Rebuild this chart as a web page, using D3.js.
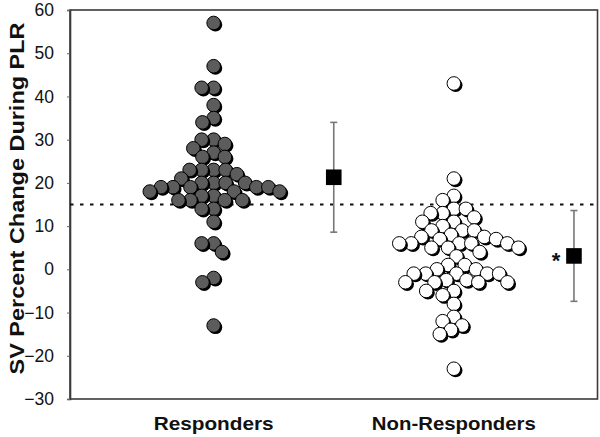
<!DOCTYPE html>
<html>
<head>
<meta charset="utf-8">
<script src="https://cdn.jsdelivr.net/npm/d3@7"></script>
<style>
  html, body { margin: 0; padding: 0; background: #fff; }
  svg { display: block; }
  text { font-family: "Liberation Sans", Arial, sans-serif; }
</style>
</head>
<body>
<svg id="chart" width="600" height="437"></svg>
<script>
// ---------------- data ----------------
const categories = ["Responders", "Non-Responders"];
const respondersValues = [57, 47, 42, 42, 38, 35, 34, 30, 30, 29, 28, 27, 26, 26,
  23, 23, 22, 23, 23, 20, 19, 20, 19, 20, 20, 21, 19, 19, 19,
  18, 18, 17, 17, 18, 16, 16, 16, 16, 14, 14, 11, 6, 6, 4, -2, -3, -13];
const nonRespondersValues = [43, 21, 17, 16, 14, 14, 13, 13, 12, 11, 11, 10,
  9, 9, 9, 8, 7.5, 7.5, 7, 7, 6, 6, 6, 6, 6, 5, 5, 5, 4, 3,
  1, 1, 0, 0, -1, -1, -1, -1, -1, -3, -3, -3, -3, -2.5, -2.5,
  -5, -6, -5, -8, -12, -11, -13, -15, -14, -23];
const groupMeans = [21.3, 3.1];
const groupSD = [12.7, 10.5];
const significance = ["", "*"];
const thresholdValue = 15;
const yTicks = [-30, -20, -10, 0, 10, 20, 30, 40, 50, 60];
const yTitle = "SV Percent Change During PLR";

// ---------------- layout ----------------
const svg = d3.select("#chart");
const mLeft = 70, mRight = 597.5, mTop = 10, mBottom = 399;

const y = d3.scaleLinear().domain([-30, 60]).range([mBottom, mTop]);
const x = d3.scalePoint().domain(categories).range([mLeft, mRight]).padding(0.598);
const step = x.step();

// frame
svg.append("rect")
  .attr("x", mLeft).attr("y", mTop)
  .attr("width", mRight - mLeft).attr("height", mBottom - mTop)
  .attr("fill", "none").attr("stroke", "#3a3a3a").attr("stroke-width", 1.6);

// y axis
const yAxis = d3.axisLeft(y).tickValues(yTicks).tickSize(3).tickPadding(13);
const gy = svg.append("g").attr("transform", `translate(${mLeft},0)`).call(yAxis);
gy.select(".domain").attr("stroke", "#3a3a3a").attr("stroke-width", 1.6);
gy.selectAll(".tick line").attr("stroke", "#666");
gy.selectAll(".tick text")
  .attr("font-size", 17.5).attr("fill", "#111")
  .style("font-family", "'Liberation Sans', Arial, sans-serif");

// y title
svg.append("text")
  .attr("transform", `translate(24,${(mTop + mBottom) / 2 - 6}) rotate(-90)`)
  .attr("text-anchor", "middle")
  .attr("font-size", 21).attr("font-weight", "bold").attr("fill", "#111")
  .attr("textLength", 352).attr("lengthAdjust", "spacingAndGlyphs")
  .text(yTitle);

// category labels
const catWidths = [120, 164];
svg.selectAll("text.cat").data(categories).join("text")
  .attr("class", "cat")
  .attr("x", d => x(d)).attr("y", 430)
  .attr("text-anchor", "middle")
  .attr("font-size", 19).attr("font-weight", "bold").attr("fill", "#111")
  .attr("textLength", (d, i) => catWidths[i]).attr("lengthAdjust", "spacingAndGlyphs")
  .text(d => d);

// threshold dashed line
svg.append("line")
  .attr("x1", mLeft).attr("x2", mRight)
  .attr("y1", y(thresholdValue)).attr("y2", y(thresholdValue))
  .attr("stroke", "#111").attr("stroke-width", 2)
  .attr("stroke-dasharray", "3.5,6.5");

// beeswarm layout computed from values
function swarm(values, d) {
  const pts = values.map((v, i) => ({ v, py: y(v), i }))
    .sort((a, b) => a.py - b.py || a.i - b.i);
  const placed = [];
  for (const p of pts) {
    const near = placed.filter(q => Math.abs(q.py - p.py) < d);
    const cands = [0];
    for (const q of near) {
      const dx = Math.sqrt(d * d - (q.py - p.py) ** 2);
      cands.push(q.dx - dx, q.dx + dx);
    }
    cands.sort((a, b) => Math.abs(a) - Math.abs(b) || a - b);
    for (const c of cands) {
      if (near.every(q => (q.dx - c) ** 2 + (q.py - p.py) ** 2 >= d * d - 1e-6)) {
        p.dx = c; break;
      }
    }
    placed.push(p);
  }
  return placed;
}

const r = 6.8, spacing = 12;
const groups = [
  { cat: categories[0], values: respondersValues, fill: "#5c5c5c" },
  { cat: categories[1], values: nonRespondersValues, fill: "#ffffff" }
];

groups.forEach(g => {
  const pts = swarm(g.values, spacing);
  const cx = x(g.cat);
  const gg = svg.append("g");
  pts.forEach(p => {
    gg.append("circle")
      .attr("cx", cx + p.dx + 1.8).attr("cy", p.py + 1.8).attr("r", r)
      .attr("fill", "#000");
    gg.append("circle")
      .attr("cx", cx + p.dx).attr("cy", p.py).attr("r", r)
      .attr("fill", g.fill).attr("stroke", "#000").attr("stroke-width", 1);
  });
});

// mean ± SD markers
categories.forEach((c, i) => {
  const mx = x(c) + step / 2;
  const m = groupMeans[i], s = groupSD[i];
  const eg = svg.append("g");
  eg.append("line")
    .attr("x1", mx).attr("x2", mx)
    .attr("y1", y(m + s)).attr("y2", y(m - s))
    .attr("stroke", "#777").attr("stroke-width", 1.6);
  [m + s, m - s].forEach(v => {
    eg.append("line")
      .attr("x1", mx - 3.5).attr("x2", mx + 3.5)
      .attr("y1", y(v)).attr("y2", y(v))
      .attr("stroke", "#777").attr("stroke-width", 1.6);
  });
  eg.append("rect")
    .attr("x", mx - 7.8).attr("y", y(m) - 7.8)
    .attr("width", 15.6).attr("height", 15.6)
    .attr("fill", "#000");
  if (significance[i]) {
    eg.append("text")
      .attr("x", mx - 18).attr("y", y(m) + 12)
      .attr("text-anchor", "middle")
      .attr("font-size", 22).attr("font-weight", "bold").attr("fill", "#111")
      .text(significance[i]);
  }
});
</script>
</body>
</html>
